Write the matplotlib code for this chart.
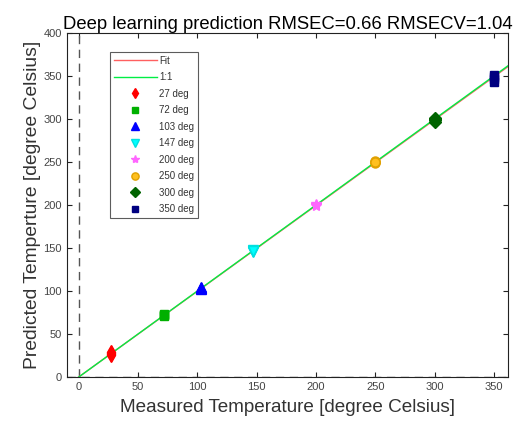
import matplotlib
matplotlib.use("Agg")
import matplotlib.pyplot as plt
import numpy as np

plt.rcParams['font.family'] = ['Liberation Sans', 'DejaVu Sans']

labels = ['27 deg', '72 deg', '103 deg', '147 deg', '200 deg', '250 deg', '300 deg', '350 deg']
measured = [27, 72, 103, 147, 200, 250, 300, 350]
predicted = [[26, 27, 28, 29], [71, 72, 73, 72], [102, 104, 105, 103],
             [145, 147, 148, 146], [199, 200, 201, 200], [249, 250, 251, 250],
             [297, 299, 301, 300], [343, 346, 349, 351]]
markers = ['d', 's', '^', 'v', '*', 'o', 'D', 's']
colors = ['#ff0000', '#00b000', '#0000ff', '#00ffff', '#ff66ff', '#ffc020', '#006400', '#000080']
edges = ['#ff0000', '#00b000', '#0000ff', '#00e0e0', '#ff66ff', '#e0a000', '#006400', '#000080']
sizes = [7, 5.5, 7.5, 7.5, 7.5, 6.5, 6.5, 5.5]

fit_x = [0, 362]
fit_y = [0, 361]

fig = plt.figure(figsize=(5.18, 4.28), dpi=100)
ax = fig.add_axes([0.129, 0.119, 0.852, 0.804])

ax.axvline(0, color='#555555', ls=(0, (6, 4)), lw=1)
ax.axhline(0, color='#555555', ls=(0, (6, 4)), lw=1)
ax.plot(fit_x, fit_y, color='#ff6060', lw=1, label='Fit')
ax.plot([0, 362], [0, 362], color='#00ee44', lw=1, label='1:1')
for m, p, mk, c, e, s, lab in zip(measured, predicted, markers, colors, edges, sizes, labels):
    ax.plot([m] * len(p), p, ls='none', marker=mk, color=c, mec=e, ms=s, label=lab)

ax.set_xlim(-10, 362)
ax.set_ylim(0, 400)
ax.set_xticks(np.arange(0, 351, 50))
ax.set_yticks(np.arange(0, 401, 50))
ax.tick_params(direction='in', labelsize=8, top=True, right=True, colors='#222222',
               labelcolor='#444444')
for sp in ax.spines.values():
    sp.set_color('#222222')
ax.set_title('Deep learning prediction RMSEC=0.66 RMSECV=1.04', fontsize=13.3, pad=3)
ax.set_xlabel('Measured Temperature [degree Celsius]', fontsize=13.6, color='#333333', labelpad=5)
ax.set_ylabel('Predicted Temperture [degree Celsius]', fontsize=13.9, color='#333333', labelpad=2)

leg = ax.legend(loc='upper left', bbox_to_anchor=(0.097, 0.945), fontsize=7, frameon=True,
                fancybox=False, edgecolor='#333333', handlelength=4.5, handletextpad=0.2,
                labelspacing=0.67, borderpad=0.4, borderaxespad=0, markerscale=0.8)
leg.get_frame().set_linewidth(0.8)
for t in leg.get_texts():
    t.set_color('#333333')

fig.savefig('out.png', dpi=100)
